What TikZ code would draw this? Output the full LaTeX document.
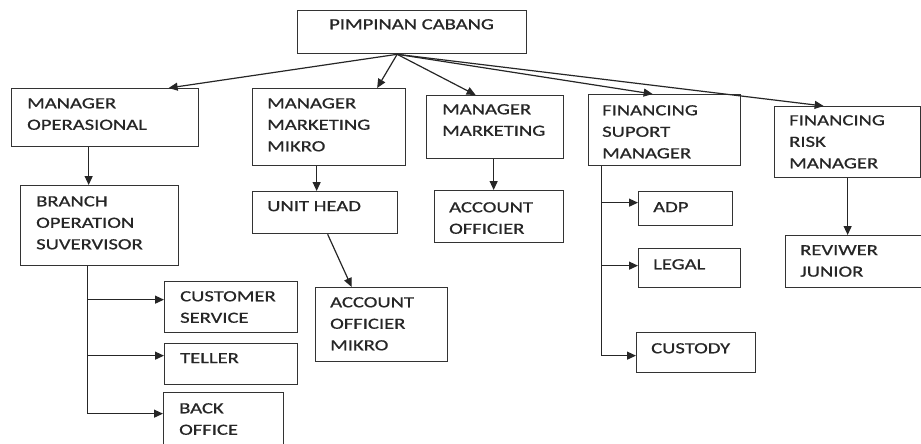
\documentclass[tikz,border=0pt]{standalone}
\usepackage{fontspec}
\setmainfont{Carlito}[FakeStretch=1.33, FakeBold=0.8]
\usetikzlibrary{arrows.meta, calc}

\tikzset{
  unit/.style={draw=black!80, line width=1.3pt, anchor=north west, inner sep=0pt},
  txt/.style={anchor=north west, align=left, inner sep=0pt, text=black!85},
  link/.style={draw=black!85, line width=1.2pt},
  arr/.style={link, -{Triangle[length=9pt, width=8pt]}},
}

\begin{document}
\begin{tikzpicture}[x=1pt, y=-1pt, font=\fontsize{15.5pt}{21.5pt}\selectfont]
  \useasboundingbox (0,0) rectangle (921,444);
  % boxes: name/x/y/width/height
  \foreach \n/\x/\y/\w/\h in {pc/297/10/229/43, mo/11/88/187/58, mmm/252/88/153/77,
      mm/426/95/137/63, fsm/588/94/152/71, frm/774/106/146/71, bos/20/185/158/80,
      uh/252/191/145/42, ao/434/190/129/52, adp/638/191/94/34, legal/638/248/102/39,
      custody/636/332/119/40, rj/785/235/145/52, cs/164/281/133/51, teller/164/343/133/41,
      bo/163/392/120/60, aom/315/287/132/74} {
    \node[unit, minimum width=\w pt, minimum height=\h pt] (\n) at (\x,\y) {};
  }
  % texts
  \foreach \n/\dx/\dy/\t in {pc/32/9/{PIMPINAN CABANG}, mo/16/10/{MANAGER\\OPERASIONAL},
      mmm/15/10/{MANAGER\\MARKETING\\MIKRO}, mm/16/9/{MANAGER\\MARKETING},
      fsm/14/11/{FINANCING\\SUPORT\\MANAGER}, frm/15/9/{FINANCING\\RISK\\MANAGER},
      bos/16/11/{BRANCH\\OPERATION\\SUVERVISOR}, uh/15/10/{UNIT HEAD},
      ao/15/12/{ACCOUNT\\OFFICIER}, adp/15/11/{ADP}, legal/15/11/{LEGAL},
      custody/15/11/{CUSTODY}, rj/15/10/{REVIWER\\JUNIOR}, cs/16/10/{CUSTOMER\\SERVICE},
      teller/16/10/{TELLER}, bo/16/11/{BACK\\OFFICE}, aom/15/10/{ACCOUNT\\OFFICIER\\MIKRO}} {
    \node[txt] (\n-t) at ([shift={(\dx,\dy)}]\n.north west) {\t};
  }

  % from the head
  \coordinate (pc-o) at ([xshift=-15pt]pc.south);
  \draw[arr] (pc-o) -- ([xshift=63.5pt]mo.north);
  \draw[arr] (pc-o) -- ([xshift=48pt]mmm.north);
  \draw[arr] (pc-o) -- ([xshift=-19.5pt]mm.north);
  \draw[arr] (pc-o) -- ([xshift=-12pt]fsm.north);
  \draw[arr] (pc-o) -- ([xshift=-24pt]frm.north);

  % single children
  \draw[arr] ([xshift=-16.5pt]mo.south) -- ([xshift=-16.5pt]mo.south |- bos.north);
  \draw[arr] ([xshift=-12.5pt]mmm.south) -- ([xshift=-12.5pt]mmm.south |- uh.north);
  \draw[arr] ([xshift=2.5pt]uh.south) -- ([xshift=-30pt]aom.north);
  \draw[arr] ([xshift=-1.5pt]mm.south) -- ([xshift=-1.5pt]mm.south |- ao.north);
  \draw[arr] (frm.south) -- (frm.south |- rj.north);

  % branch operation tree
  \coordinate (bos-t) at ([xshift=-12pt]bos.south);
  \coordinate (cs-in) at ([yshift=7.5pt]cs.west);
  \coordinate (teller-in) at ([yshift=8.5pt]teller.west);
  \coordinate (bo-in) at ([yshift=9pt]bo.west);
  \draw[link] (bos-t) -- (bos-t |- bo-in);
  \foreach \k in {cs-in, teller-in, bo-in}
    \draw[arr] (bos-t |- \k) -- (\k);

  % financing support tree
  \coordinate (fsm-t) at ([xshift=-63pt]fsm.south);
  \coordinate (adp-in) at ([yshift=6pt]adp.west);
  \coordinate (legal-in) at ([yshift=2.5pt]legal.west);
  \coordinate (custody-in) at ([yshift=-3pt]custody.west);
  \draw[link] (fsm-t) -- (fsm-t |- custody-in);
  \foreach \k in {adp-in, legal-in, custody-in}
    \draw[arr] (fsm-t |- \k) -- (\k);
\end{tikzpicture}
\end{document}
